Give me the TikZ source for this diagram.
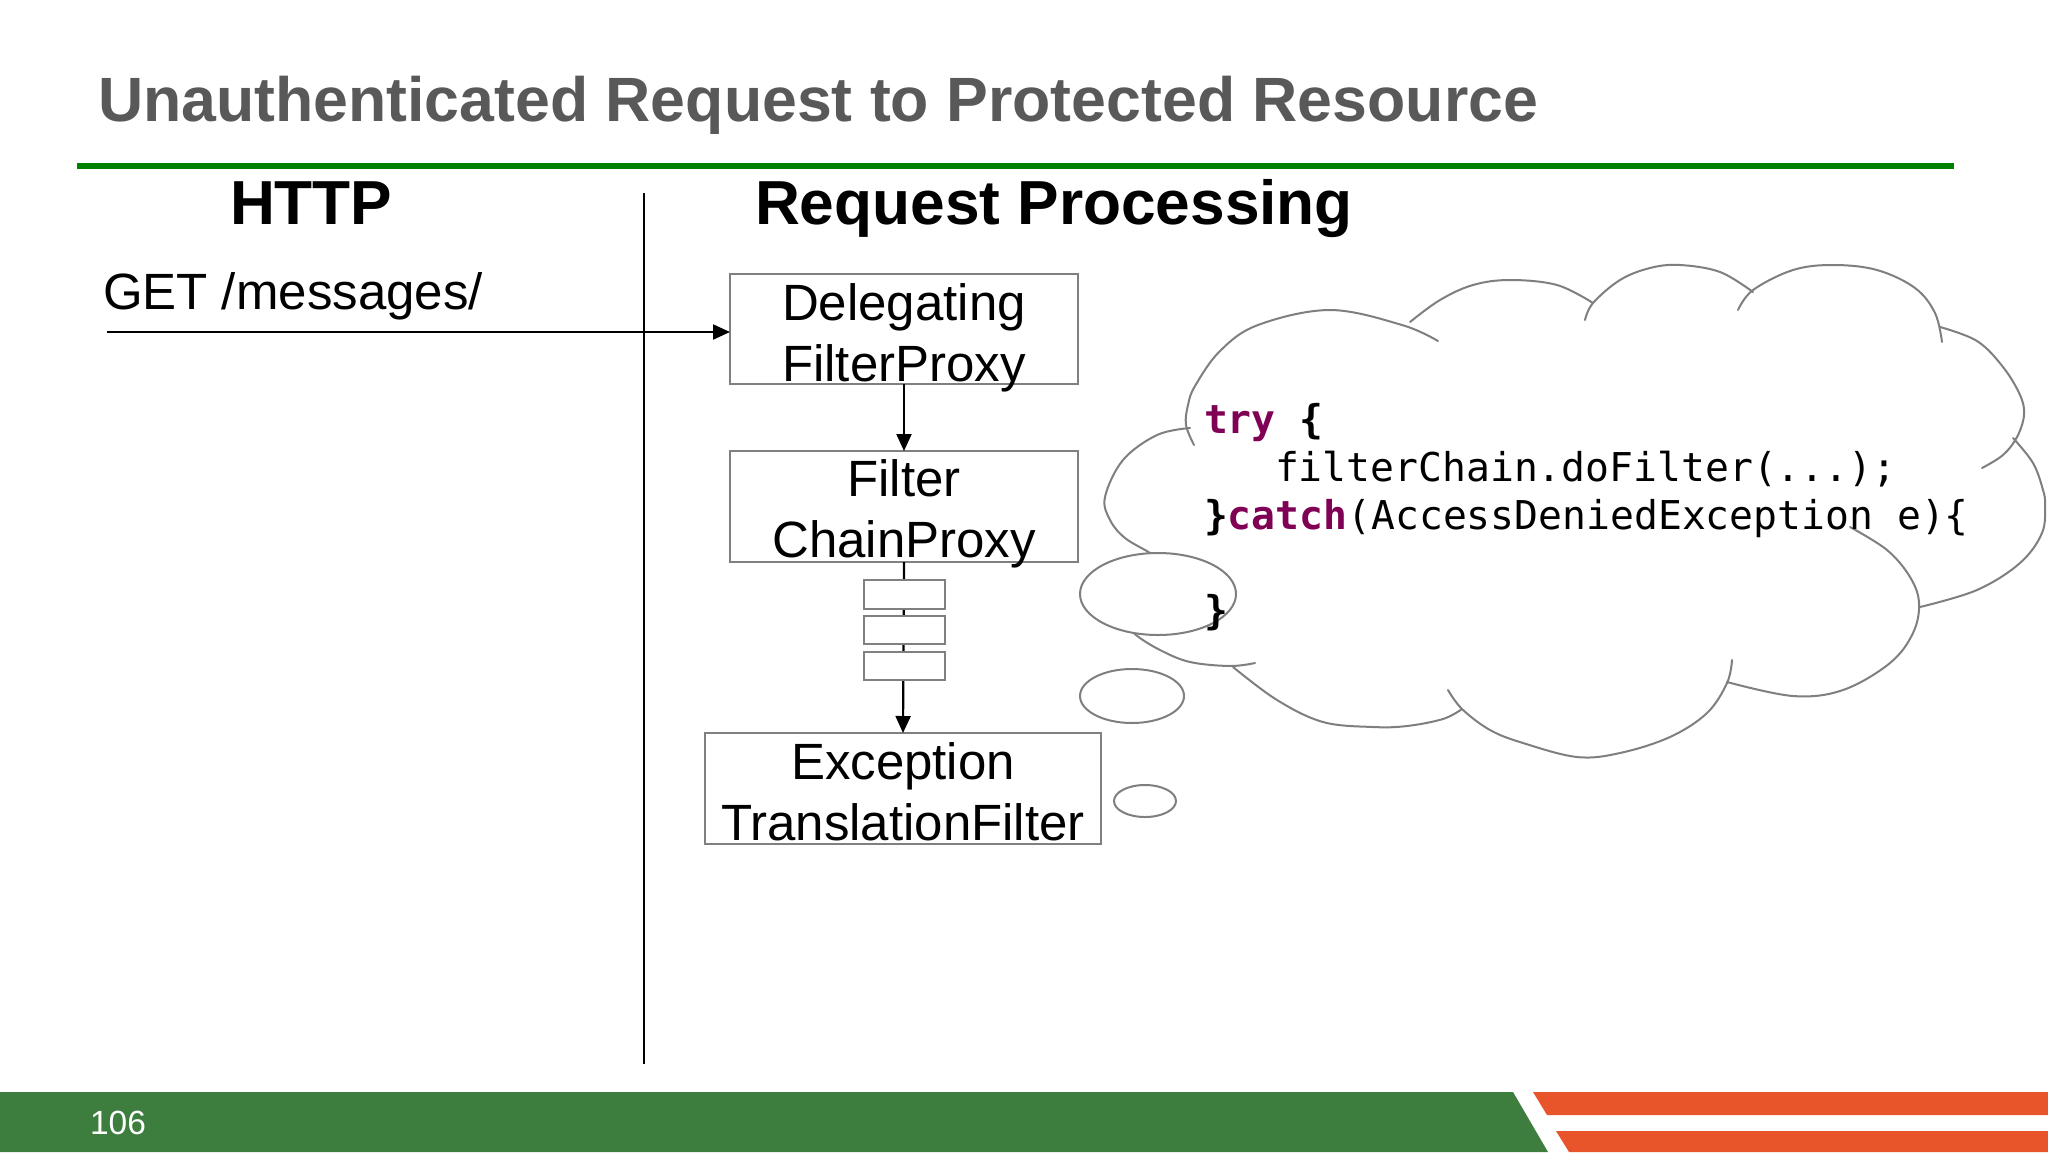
\documentclass[tikz,border=0pt]{standalone}
\usepackage{fontspec}
\setmainfont{Liberation Sans}
\newfontfamily\codefont{DejaVu Sans Mono}
\usetikzlibrary{arrows.meta,shapes.geometric}

\definecolor{titlegray}{HTML}{595959}
\definecolor{rulegreen}{HTML}{008000}
\definecolor{footgreen}{HTML}{3D7D3D}
\definecolor{footorange}{HTML}{E8552A}
\definecolor{boxgray}{HTML}{808080}
\definecolor{cloudgray}{HTML}{7F7F7F}
\definecolor{kw}{HTML}{7F0055}

\tikzset{
  txt/.style={inner sep=0pt, outer sep=0pt},
  titletxt/.style={txt, anchor=base west, text=titlegray, font=\fontsize{62.6}{70}\selectfont\bfseries},
  headtxt/.style={txt, anchor=base west, font=\fontsize{62.2}{70}\selectfont\bfseries},
  plaintxt/.style={txt, anchor=base west, font=\fontsize{51}{58}\selectfont},
  boxtxt/.style={txt, anchor=base, font=\fontsize{51}{58}\selectfont},
  codetxt/.style={txt, anchor=base west, font=\codefont\fontsize{39.7}{48}\selectfont},
  pagetxt/.style={txt, anchor=base west, text=white, font=\fontsize{33.5}{40}\selectfont},
  stagebox/.style={draw=boxgray, line width=2pt, inner sep=0pt, outer sep=0pt},
  chainbox/.style={stagebox, fill=white, minimum width=81pt, minimum height=28pt},
  flow/.style={draw=black, line width=2.2pt, -{Triangle[length=17pt, width=15pt]}},
  plainline/.style={draw=black, line width=2.5pt},
  cloudline/.style={draw=cloudgray, line width=2pt, line cap=round},
  bubble/.style={draw=cloudgray, line width=2pt, fill=white, ellipse, inner sep=0pt},
}

\begin{document}
\begin{tikzpicture}[x=1pt, y=-1pt]
  % page frame
  \fill[white] (0,0) rectangle (2048,1152);
  \useasboundingbox (0,0) rectangle (2048,1152);

  % title and rule
  \node[titletxt] (title) at (98,121) {Unauthenticated Request to Protected Resource};
  \coordinate (ruleL) at (77,166);
  \coordinate (ruleR) at (1954,166);
  \draw[rulegreen, line width=6pt] (ruleL) -- (ruleR);

  % column headings and divider
  \node[headtxt] (http) at (230,224) {HTTP};
  \node[headtxt] (rp) at (755,224) {Request Processing};
  \coordinate (divtop) at (644,193);
  \coordinate (divbot) at (644,1064);
  \draw[plainline] (divtop) -- (divbot);

  % HTTP request
  \node[plaintxt] (get) at (103,309) {GET /messages/};
  \coordinate (getstart) at (107,332);

  % filter stages
  \node[stagebox, minimum width=348pt, minimum height=110pt] (dfp) at (904,329) {};
  \node[stagebox, minimum width=348pt, minimum height=111pt] (fcp) at (904,506.5) {};
  \node[stagebox, minimum width=396pt, minimum height=111pt] (etf) at (903,788.5) {};

  \draw[flow] (getstart) -- (getstart -| dfp.west);
  \draw[flow] (dfp.south) -- (fcp.north);
  \draw[flow] (fcp.south) -- (etf.north);

  \node[chainbox, minimum height=29pt] (f1) at (904,594.5) {};
  \node[chainbox] (f2) at (904,630) {};
  \node[chainbox] (f3) at (904,666) {};

  \node[boxtxt] (dfp1) at (904,320) {Delegating};
  \node[boxtxt] (dfp2) at (904,381) {FilterProxy};
  \node[boxtxt] (fcp1) at (904,496) {Filter};
  \node[boxtxt] (fcp2) at (904,557) {ChainProxy};
  \node[boxtxt] (etf1) at (903,779) {Exception};
  \node[boxtxt] (etf2) at (903,840) {TranslationFilter};

  % thought cloud
  \draw[cloudline] plot[smooth, tension=0.6] coordinates {(1194,445) (1186,425) (1188,405) (1195,386) (1220,351) (1258,325) (1330,310) (1402,325) (1438,341)};
  \draw[cloudline] plot[smooth, tension=0.6] coordinates {(1410,322) (1440,300) (1473,285) (1510,280) (1557,285) (1593,303)};
  \draw[cloudline] plot[smooth, tension=0.6] coordinates {(1585,320) (1593,303) (1620,280) (1650,268) (1680,265) (1720,272) (1753,292)};
  \draw[cloudline] plot[smooth, tension=0.6] coordinates {(1738,310) (1753,290) (1793,270) (1833,265) (1877,270) (1915,288) (1935,313) (1942,342)};
  \draw[cloudline] plot[smooth, tension=0.6] coordinates {(1940,327) (1977,341) (2003,367) (2020,395) (2024,415) (2017,437) (2003,455) (1982,468)};
  \draw[cloudline] plot[smooth, tension=0.6] coordinates {(2013,438) (2033,463) (2043,490) (2045,505) (2042,533) (2020,563) (1977,590) (1920,607)};
  \draw[cloudline] plot[smooth, tension=0.6] coordinates {(1850,527) (1887,550) (1910,577) (1919,603) (1913,633) (1890,663) (1843,690) (1793,696) (1727,682)};
  \draw[cloudline] plot[smooth, tension=0.6] coordinates {(1732,660) (1727,683) (1707,713) (1670,737) (1620,753) (1577,757) (1523,743) (1490,730) (1462,709) (1448,690)};
  \draw[cloudline] plot[smooth, tension=0.6] coordinates {(1462,709) (1443,719) (1407,726) (1373,727) (1323,722) (1277,700) (1233,667)};
  \draw[cloudline] plot[smooth, tension=0.6] coordinates {(1255,663) (1230,666) (1190,662) (1160,650) (1136,635) (1125,622)};
  \draw[cloudline] plot[smooth, tension=0.6] coordinates {(1190,428) (1157,435) (1123,460) (1105,497) (1110,520) (1125,538) (1150,553) (1165,565)};

  % trailing bubbles
  \node[bubble, minimum width=156pt, minimum height=82pt] (b1) at (1158,594) {};
  \node[bubble, minimum width=104pt, minimum height=54pt] (b2) at (1132,696) {};
  \node[bubble, minimum width=62pt, minimum height=32pt] (b3) at (1145,801) {};

  % code in the cloud
  \node[codetxt] (c1) at (1204,433) {\textbf{\textcolor{kw}{try}} \textbf{\{}};
  \node[codetxt] (c2) at (1275,481) {filterChain.doFilter(...);};
  \node[codetxt] (c3) at (1204,529) {\textbf{\}}\textbf{\textcolor{kw}{catch}}(AccessDeniedException e)\{};
  \node[codetxt] (c4) at (1204,624) {\textbf{\}}};

  % footer band
  \fill[footgreen] (0,1092) -- (1513,1092) -- (1548,1152) -- (0,1152) -- cycle;
  \fill[footorange] (1533,1092) -- (2048,1092) -- (2048,1115) -- (1547,1115) -- cycle;
  \fill[footorange] (1556,1131) -- (2048,1131) -- (2048,1152) -- (1569,1152) -- cycle;
  \node[pagetxt] (page) at (90,1134) {106};
\end{tikzpicture}
\end{document}
